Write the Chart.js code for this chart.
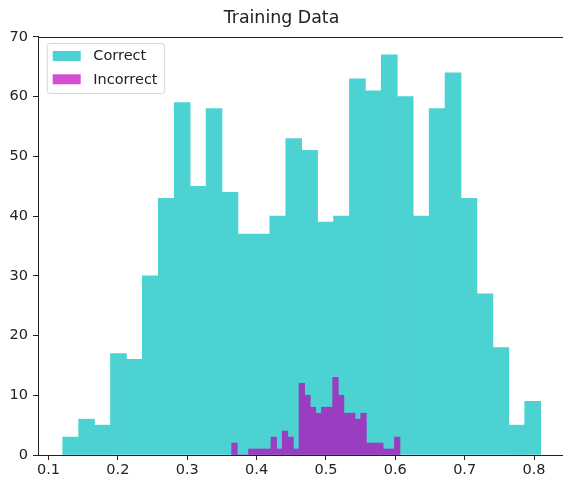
<!DOCTYPE html>
<html>
<head>
<meta charset="utf-8">
<script src="https://cdn.jsdelivr.net/npm/chart.js@4/dist/chart.umd.min.js"></script>
<style>
  html, body { margin: 0; padding: 0; background: #fff; overflow: hidden; }
  #wrap { width: 601px; height: 483px; }
</style>
</head>
<body>
<div id="wrap"><canvas id="c" width="601" height="483"></canvas></div>
<script>
// Histogram counts, 30 bins each
const correctCounts = [3, 6, 5, 17, 16, 30, 43, 59, 45, 58, 44, 37, 37, 40, 53,
                       51, 39, 40, 63, 61, 67, 60, 40, 58, 64, 43, 27, 18, 5, 9];
const incorrectCounts = [2, 0, 0, 1, 1, 1, 1, 3, 1, 4, 3, 1, 12, 10, 8,
                         7, 8, 8, 13, 10, 7, 7, 6, 7, 2, 2, 2, 1, 1, 3];

// Bin layout: first edge and bin width of each histogram
const correctBins = { start: 0.12047, width: 0.02297 };
const incorrectBins = { start: 0.36413, width: 0.008088 };

const seriesLabels = ['Correct', 'Incorrect'];
const xTicks = [0.1, 0.2, 0.3, 0.4, 0.5, 0.6, 0.7, 0.8];
const yTicks = [0, 10, 20, 30, 40, 50, 60, 70];

function toBars(counts, bins) {
  return counts.map((c, i) => ({ x: bins.start + (i + 0.5) * bins.width, y: c }));
}

const FONT = 'DejaVu Sans';
const XMIN = 0.08486, XMAX = 0.84178;

// Top spine of the axes box
const topSpine = {
  id: 'topSpine',
  afterDatasetsDraw(chart) {
    const { ctx, chartArea: a } = chart;
    ctx.save();
    ctx.strokeStyle = '#222';
    ctx.lineWidth = 1;
    ctx.beginPath();
    ctx.moveTo(a.left, Math.round(a.top) + 0.5);
    ctx.lineTo(a.right + 40, Math.round(a.top) + 0.5);
    ctx.stroke();
    ctx.restore();
  }
};

// Legend box drawn inside the upper-left corner of the plot
const insideLegend = {
  id: 'insideLegend',
  afterDraw(chart) {
    const { ctx, chartArea: a } = chart;
    const x0 = a.left + 8.7, y0 = a.top + 6, w = 117.5, h = 50, r = 3;
    ctx.save();
    ctx.beginPath();
    ctx.roundRect(x0 + 0.5, y0 + 0.5, w, h, r);
    ctx.fillStyle = 'rgba(255,255,255,0.8)';
    ctx.fill();
    ctx.strokeStyle = '#d6d6d6';
    ctx.lineWidth = 1;
    ctx.stroke();
    ctx.font = '14.5px "' + FONT + '"';
    ctx.textBaseline = 'middle';
    chart.data.datasets.forEach((ds, i) => {
      const cy = y0 + 13 + i * 23.3;
      ctx.fillStyle = ds.legendColor;
      ctx.fillRect(x0 + 6, cy - 5, 28, 10);
      ctx.fillStyle = '#222';
      ctx.fillText(ds.label, x0 + 46.6, cy + 0.5);
    });
    ctx.restore();
  }
};

new Chart(document.getElementById('c'), {
  type: 'bar',
  data: {
    datasets: [
      {
        label: seriesLabels[0],
        data: toBars(correctCounts, correctBins),
        xAxisID: 'x',
        order: 1,
        backgroundColor: '#4dd2d3',
        legendColor: '#4dd2d3',
        borderWidth: 0,
        barPercentage: 1,
        categoryPercentage: 1,
        grouped: false
      },
      {
        label: seriesLabels[1],
        data: toBars(incorrectCounts, incorrectBins),
        xAxisID: 'x2',
        order: 0,
        backgroundColor: '#9a3dc1',
        legendColor: '#d24fd2',
        borderWidth: 0,
        barPercentage: 1,
        categoryPercentage: 1,
        grouped: false
      }
    ]
  },
  options: {
    responsive: false,
    animation: false,
    layout: { padding: { left: 0, right: 38, top: 0, bottom: 0 } },
    plugins: {
      legend: { display: false },
      tooltip: { enabled: false },
      title: {
        display: true,
        text: 'Training Data',
        color: '#222',
        font: { family: FONT, size: 17.4, weight: 'normal', lineHeight: 1.2 },
        padding: { top: 8, bottom: 8.1 }
      }
    },
    scales: {
      x: {
        type: 'linear',
        min: XMIN,
        max: XMAX,
        offset: false,
        afterFit: (s) => { s.height = 28; },
        afterBuildTicks: (s) => { s.ticks = xTicks.map(v => ({ value: v })); },
        ticks: {
          includeBounds: false,
          stepSize: 0.1,
          autoSkip: false,
          maxRotation: 0,
          padding: 2,
          color: '#222',
          font: { family: FONT, size: 14.5 },
          callback: (v) => Number(v).toFixed(1)
        },
        grid: { offset: false, drawOnChartArea: false, drawTicks: true, tickLength: 5, color: '#222' },
        border: { display: true, color: '#222', width: 1, z: 1 }
      },
      x2: {
        type: 'linear',
        display: false,
        offset: false,
        min: XMIN,
        max: XMAX,
        grid: { offset: false },
        ticks: { stepSize: 0.1, includeBounds: false }
      },
      y: {
        min: 0,
        max: 70,
        afterFit: (s) => { s.width = 38; },
        afterBuildTicks: (s) => { s.ticks = yTicks.map(v => ({ value: v })); },
        ticks: {
          stepSize: 10,
          padding: 5,
          color: '#222',
          font: { family: FONT, size: 14.5 }
        },
        grid: { drawOnChartArea: false, drawTicks: true, tickLength: 5, color: '#222' },
        border: { display: true, color: '#222', width: 1, z: 1 }
      }
    }
  },
  plugins: [topSpine, insideLegend]
});
</script>
</body>
</html>
